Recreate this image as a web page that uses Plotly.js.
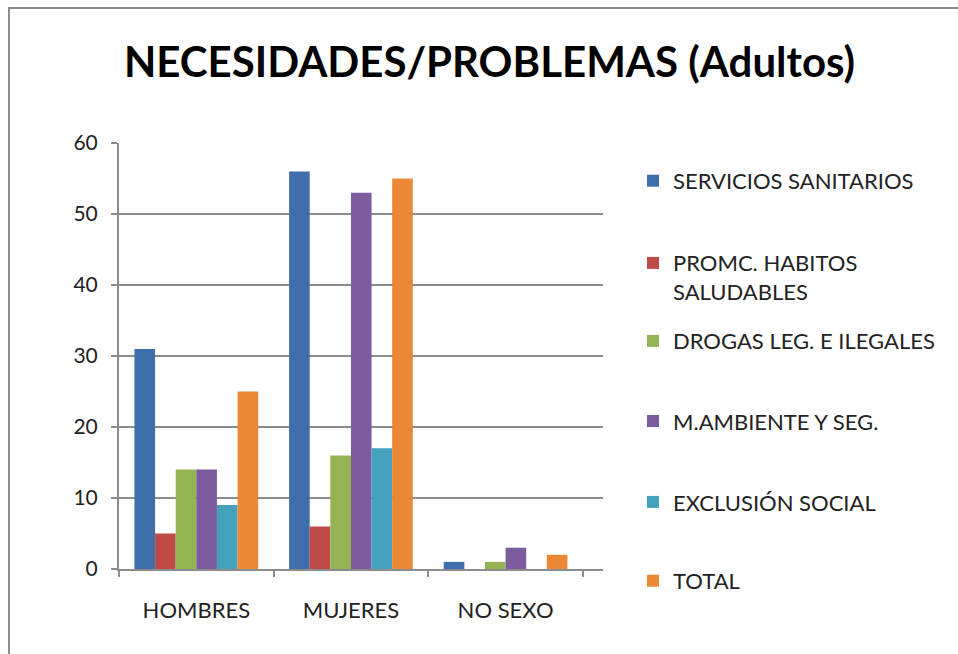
<!DOCTYPE html>
<html>
<head>
<meta charset="utf-8">
<script src="https://cdn.plot.ly/plotly-3.0.1.min.js"></script>
<style>html,body{margin:0;padding:0;background:#fff;}#chart{width:958px;height:654px;}</style>
</head>
<body>
<div id="chart"></div>
<script>
const categories = ["HOMBRES", "MUJERES", "NO SEXO"];
const seriesNames = ["SERVICIOS SANITARIOS", "PROMC. HABITOS<br>SALUDABLES", "DROGAS LEG. E ILEGALES", "M.AMBIENTE Y SEG.", "EXCLUSIÓN SOCIAL", "TOTAL"];
const serviciosSanitarios = [31, 56, 1];
const promcHabitos = [5, 6, 0];
const drogas = [14, 16, 1];
const mAmbiente = [14, 53, 3];
const exclusion = [9, 17, 0];
const total = [25, 55, 2];
const yTicks = [0, 10, 20, 30, 40, 50, 60];

const seriesValues = [serviciosSanitarios, promcHabitos, drogas, mAmbiente, exclusion, total];
const colors = ["#3e6eab", "#be4b48", "#94b454", "#7c5c9e", "#45a1bd", "#ea8835"];
const legendIds = ["legend", "legend2", "legend3", "legend4", "legend5", "legend6"];
const legendY = [0.911, 0.684, 0.535, 0.347, 0.157, -0.028];

const traces = seriesValues.map((vals, i) => ({
  type: "bar",
  name: seriesNames[i],
  x: categories,
  y: vals,
  legend: legendIds[i],
  showlegend: true,
  marker: {color: colors[i], line: {width: 0}},
  hoverinfo: "x+y+name"
}));

const layout = {
  width: 958, height: 654,
  showlegend: true,
  paper_bgcolor: "#ffffff", plot_bgcolor: "#ffffff",
  margin: {l: 119, r: 355, t: 143, b: 85},
  font: {family: "Lato, 'Open Sans', sans-serif", size: 22, color: "#222"},
  title: {
    text: "<b>NECESIDADES/PROBLEMAS (Adultos)</b>",
    font: {family: "Lato, 'Open Sans', sans-serif", size: 42, color: "#000"},
    x: 0.511, xanchor: "center", xref: "container",
    y: 0.905, yanchor: "middle", yref: "container"
  },
  barmode: "group", bargap: 0.2, bargroupgap: 0,
  xaxis: {
    type: "category",
    range: [-0.5, 2.63],
    showgrid: false,
    showline: true, linecolor: "#8c8c8c", linewidth: 2,
    ticks: "outside", tickson: "boundaries", ticklen: 6, tickcolor: "#8c8c8c", tickwidth: 2,
    ticklabelstandoff: 21,
    tickfont: {size: 22, color: "#222"},
    zeroline: false, fixedrange: true
  },
  yaxis: {
    range: [0, 60],
    tickvals: yTicks,
    showgrid: true, gridcolor: "#8c8c8c", gridwidth: 2,
    showline: true, linecolor: "#8c8c8c", linewidth: 2,
    ticks: "outside", ticklen: 6, tickcolor: "#8c8c8c", tickwidth: 2,
    ticklabelstandoff: 9,
    tickfont: {size: 21, color: "#222"},
    zeroline: false, fixedrange: true
  },
  shapes: [
    {type: "rect", xref: "paper", yref: "paper", x0: -0.2273, x1: 1.8, y0: -0.5, y1: 1.317,
     line: {color: "#8c8c8c", width: 2}, fillcolor: "rgba(0,0,0,0)", layer: "below"}
  ]
};

legendIds.forEach((id, i) => {
  layout[id] = {
    visible: true,
    x: 1.062, xanchor: "left", xref: "paper",
    y: legendY[i], yanchor: "middle", yref: "paper",
    font: {size: 22, color: "#222"},
    valign: "top",
    itemwidth: 30,
    bgcolor: "rgba(0,0,0,0)"
  };
});

Plotly.newPlot("chart", traces, layout, {displayModeBar: false, staticPlot: true});
</script>
</body>
</html>
